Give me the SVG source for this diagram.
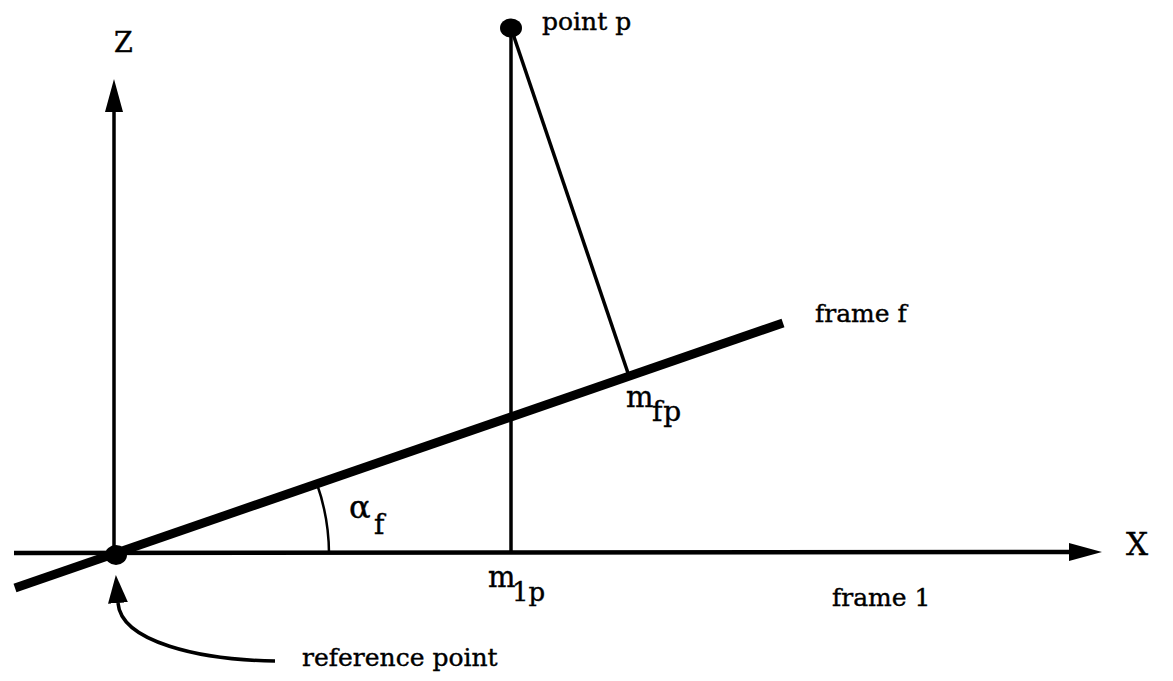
<svg xmlns="http://www.w3.org/2000/svg" width="1173" height="681" viewBox="0 0 1173 681">
<style>
.ln{stroke:#000;fill:none;stroke-linecap:butt}
.thin{stroke-width:3.5}
.axis{stroke-width:4.5}
.frame{stroke-width:9}
.arc{stroke-width:2.5}
.t{font-family:"DejaVu Serif","Liberation Serif",serif;fill:#000;stroke:#000;stroke-width:0.4;font-size:25px}
</style>
<defs>
<marker id="ah" markerUnits="userSpaceOnUse" markerWidth="40" markerHeight="24" refX="0" refY="9" orient="auto" viewBox="0 0 40 24">
<path d="M0,0 L33,9 L0,18 z" fill="#000"/>
</marker>
<marker id="ah2" markerUnits="userSpaceOnUse" markerWidth="40" markerHeight="24" refX="0" refY="10" orient="auto" viewBox="0 0 40 24">
<path d="M0,0 L28,10 L0,20 z" fill="#000"/>
</marker>
</defs>
<rect width="1173" height="681" fill="#fff"/>
<g id="connectors">
<line class="ln axis" x1="14" y1="553" x2="1069" y2="552" marker-end="url(#ah)"/>
<line class="ln thin" x1="114" y1="553" x2="114" y2="112" marker-end="url(#ah)"/>
<line class="ln frame" x1="15" y1="588" x2="783" y2="323"/>
<line class="ln thin" x1="511" y1="28" x2="511" y2="553"/>
<line class="ln thin" x1="511" y1="28" x2="629" y2="376"/>
<path class="ln arc" d="M317,484 A213,213 0 0 1 329,553"/>
<path class="ln thin" d="M275,661 C200,660 121,642 118,603" marker-end="url(#ah2)"/>
</g>
<g id="point-p">
<ellipse cx="511" cy="28" rx="11" ry="9.5" fill="#000"/>
<text class="t" x="542" y="30">point p</text>
</g>
<g id="reference-point">
<ellipse cx="116" cy="555" rx="11" ry="10" fill="#000"/>
<text class="t" x="302" y="666">reference point</text>
</g>
<g id="axis-labels">
<text class="t" x="114" y="52" style="font-size:27px">Z</text>
<text class="t" x="1126" y="555" style="font-size:31px">X</text>
</g>
<g id="frame-labels">
<text class="t" x="815" y="322">frame f</text>
<text class="t" x="832" y="606">frame 1</text>
</g>
<g id="m1p">
<text class="t" x="488" y="587" style="font-size:29px">m</text>
<text class="t" x="512" y="601" style="font-size:26px">1p</text>
</g>
<g id="mfp">
<text class="t" x="626" y="407" style="font-size:29px">m</text>
<text class="t" x="652" y="421" style="font-size:28px;letter-spacing:1px">fp</text>
</g>
<g id="alpha">
<text class="t" x="349" y="518" style="font-size:32px">α</text>
<text class="t" x="374" y="534" style="font-size:28px">f</text>
</g>
</svg>
